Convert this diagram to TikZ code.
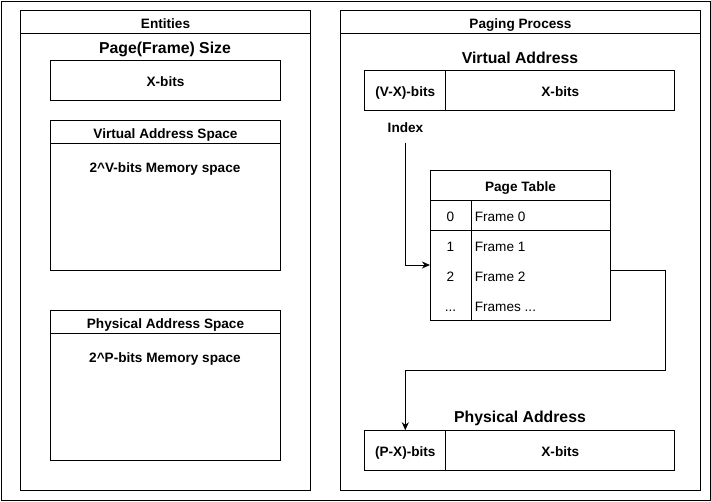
\documentclass[tikz,border=0pt]{standalone}
\usepackage{fontspec}
\setmainfont{Liberation Sans}
\usetikzlibrary{arrows.meta}
\begin{document}
\begin{tikzpicture}[x=1pt,y=-1pt, line width=1pt,
  box/.style={draw, rectangle, inner sep=0pt, anchor=center},
  bld/.style={font=\fontsize{13.6}{16}\selectfont\bfseries, text height=9.7pt, text depth=0pt},
  ttl/.style={font=\fontsize{15.8}{19}\selectfont\bfseries, text height=11.3pt, text depth=0pt},
  reg/.style={font=\fontsize{13.6}{16}\selectfont, text height=9.7pt, text depth=0pt},
  lbl/.style={yshift=-1.5pt},
  arr/.style={-{Stealth[length=8pt,width=7pt]}, line width=1pt}]
\useasboundingbox (0,0) rectangle (711,501);
\node[box, minimum width=709pt, minimum height=499pt] (outer) at (355.5,250.5) {};

% Entities
\node[box, minimum width=290pt, minimum height=23.3pt] (enth) at (165.5,22) {};
\node[bld, lbl] (entt) at (enth) {Entities};
\node[box, minimum width=290pt, minimum height=456.7pt] (entb) at (165.5,261.7) {};
\node[ttl, lbl] (pfs) at (165,46) {Page(Frame) Size};
\node[box, minimum width=230pt, minimum height=39.3pt] (xb) at (165.5,80.4) {};
\node[bld, lbl] (xbt) at (xb) {X-bits};
\node[box, minimum width=230pt, minimum height=22.6pt] (vash) at (165.5,132) {};
\node[bld, lbl] (vasht) at (vash) {Virtual Address Space};
\node[box, minimum width=230pt, minimum height=126.7pt] (vasb) at (165.5,206.7) {};
\node[bld, lbl] (vast) at (165,166) {2\^{}V-bits Memory space};
\node[box, minimum width=230pt, minimum height=22.6pt] (pash) at (165.5,322) {};
\node[bld, lbl] (pasht) at (pash) {Physical Address Space};
\node[box, minimum width=230pt, minimum height=126.7pt] (pasb) at (165.5,396.7) {};
\node[bld, lbl] (past) at (165,356) {2\^{}P-bits Memory space};

% Paging process
\node[box, minimum width=360pt, minimum height=23.3pt] (pph) at (520.5,22) {};
\node[bld, lbl] (ppht) at (pph) {Paging Process};
\node[box, minimum width=360pt, minimum height=456.7pt] (ppb) at (520.5,261.7) {};
\node[ttl, lbl] (vat) at (520,56) {Virtual Address};
\node[box, minimum width=80.7pt, minimum height=39.3pt] (va1) at (405.3,90.4) {};
\node[bld, lbl] (va1t) at (va1) {(V-X)-bits};
\node[box, minimum width=229.3pt, minimum height=39.3pt] (va2) at (560.3,90.4) {};
\node[bld, lbl] (va2t) at (va2) {X-bits};
\node[bld, inner sep=0pt, minimum height=28pt] (idx) at (405.5,128) {Index};

% Page table
\node[box, minimum width=180pt, minimum height=30pt] (pt) at (520.5,185) {};
\node[bld, lbl] (ptt) at (pt) {Page Table};
\node[box, minimum width=40.7pt, minimum height=30pt] (r0a) at (450.8,215) {};
\node[box, minimum width=139.3pt, minimum height=30pt] (r0b) at (540.8,215) {};
\node[box, minimum width=40.7pt, minimum height=90pt] (grp1) at (450.8,275) {};
\node[box, minimum width=139.3pt, minimum height=90pt] (grp2) at (540.8,275) {};
\node[reg, lbl] (n0) at (450.5,215) {0};
\node[reg, lbl] (n1) at (450.5,245) {1};
\node[reg, lbl] (n2) at (450.5,275) {2};
\node[reg, lbl] (n3) at (450.5,305) {...};
\node[reg, lbl, anchor=west] (f0) at (471,215) {Frame 0};
\node[reg, lbl, anchor=west] (f1) at (471,245) {Frame 1};
\node[reg, lbl, anchor=west] (f2) at (471,275) {Frame 2};
\node[reg, lbl, anchor=west] (f3) at (471,305) {Frames ...};

% Physical address
\node[ttl, lbl] (pat) at (520,415) {Physical Address};
\node[box, minimum width=80.7pt, minimum height=39.3pt] (pa1) at (405.3,450.4) {};
\node[bld, lbl] (pa1t) at (pa1) {(P-X)-bits};
\node[box, minimum width=229.3pt, minimum height=39.3pt] (pa2) at (560.3,450.4) {};
\node[bld, lbl] (pa2t) at (pa2) {X-bits};

% connectors
\coordinate (bend) at (665.5,370.5);
\draw[arr] (idx.south) |- ([yshift=10pt]grp1.west);
\draw[arr] ([yshift=5pt]grp2.east) -| (bend) -| (pa1.north);
\end{tikzpicture}
\end{document}
